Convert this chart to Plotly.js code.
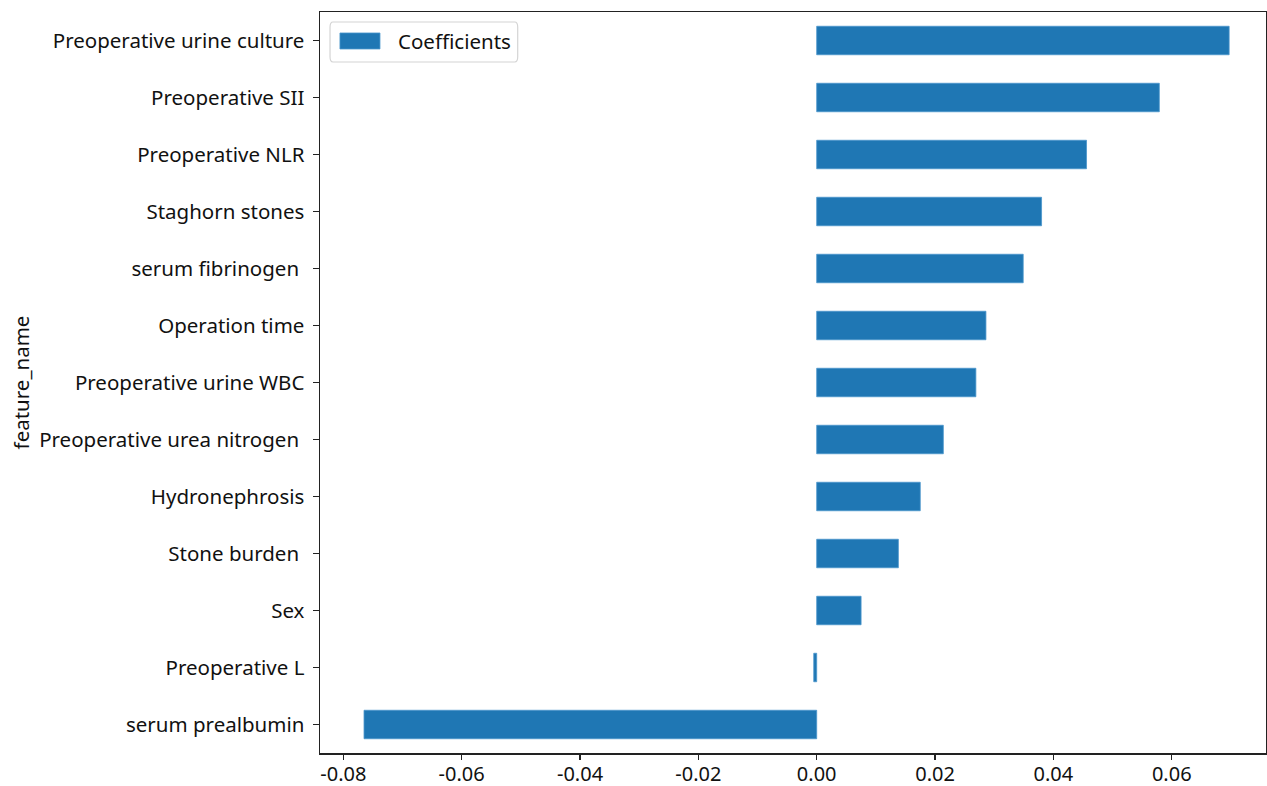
<!DOCTYPE html>
<html>
<head>
<meta charset="utf-8">
<script src="https://cdn.plot.ly/plotly-3.0.1.min.js"></script>
<style>
  html, body { margin: 0; padding: 0; background: #ffffff; }
  #chart { width: 1267px; height: 786px; }
</style>
</head>
<body>
<div id="chart"></div>
<script>
// Feature names, listed bottom to top as drawn on the category axis
const featureNames = [
  "serum prealbumin",
  "Preoperative L",
  "Sex",
  "Stone burden\u00a0",
  "Hydronephrosis",
  "Preoperative urea nitrogen\u00a0",
  "Preoperative urine WBC",
  "Operation time",
  "serum fibrinogen\u00a0",
  "Staghorn stones",
  "Preoperative NLR",
  "Preoperative SII",
  "Preoperative urine culture"
];

// Model coefficient for each feature
const coefficients = [
  -0.0765,
  -0.0005,
  0.0075,
  0.0138,
  0.0175,
  0.0214,
  0.0269,
  0.0286,
  0.0349,
  0.0380,
  0.0456,
  0.0579,
  0.0697
];

const seriesName = 'Coefficients';
const xTickValues = [-0.08, -0.06, -0.04, -0.02, 0.00, 0.02, 0.04, 0.06];
const xTickLabels = ["-0.08", "-0.06", "-0.04", "-0.02", "0.00", "0.02", "0.04", "0.06"];

const FONT = '"Noto Sans", "Open Sans", "DejaVu Sans", sans-serif';
const BAR_COLOR = '#1f77b4';
const TEXT_SIZE = 20.5;

const trace = {
  type: 'bar',
  orientation: 'h',
  name: seriesName,
  x: coefficients,
  y: featureNames,
  width: 0.5,
  marker: {
    color: BAR_COLOR,
    line: { color: '#4a95cc', width: 0.8 }
  },
  showlegend: false,
  hoverinfo: 'x+y'
};

// Legend box with a wide rectangular patch, drawn in plot-area coordinates
const legendShapes = [
  {
    type: 'path', xref: 'paper', yref: 'paper',
    path: 'M 0.0106,0.9795 L 0.0106,0.9395 Q 0.0106,0.9325 0.0137,0.9325 L 0.2059,0.9325 ' +
          'Q 0.2090,0.9325 0.2090,0.9395 L 0.2090,0.9795 Q 0.2090,0.9865 0.2059,0.9865 ' +
          'L 0.0137,0.9865 Q 0.0106,0.9865 0.0106,0.9795 Z',
    line: { color: '#d4d4d4', width: 1.2 },
    fillcolor: 'rgba(255,255,255,0.85)',
    layer: 'above'
  },
  {
    type: 'rect', xref: 'paper', yref: 'paper',
    x0: 0.0211, x1: 0.0634, y0: 0.9501, y1: 0.9717,
    line: { color: '#4a95cc', width: 0.8 },
    fillcolor: BAR_COLOR,
    layer: 'above'
  }
];

const legendLabel = {
  xref: 'paper', yref: 'paper',
  x: 0.0803, y: 0.9615,
  xanchor: 'left', yanchor: 'middle',
  text: seriesName,
  showarrow: false,
  font: { family: FONT, size: TEXT_SIZE, color: '#111111' }
};

const layout = {
  width: 1267,
  height: 786,
  margin: { l: 320, r: 1, t: 12, b: 33, pad: 0 },
  paper_bgcolor: '#ffffff',
  plot_bgcolor: '#ffffff',
  font: { family: FONT, size: TEXT_SIZE, color: '#111111' },
  showlegend: false,
  shapes: legendShapes,
  annotations: [legendLabel],
  xaxis: {
    range: [-0.08394, 0.07593],
    tickvals: xTickValues,
    ticktext: xTickLabels,
    ticks: 'outside', ticklen: 5, tickwidth: 1.2, tickcolor: '#222222',
    showline: true, linecolor: '#222222', linewidth: 1.5, mirror: true,
    showgrid: false, zeroline: false,
    ticklabelstandoff: -3,
    tickfont: { family: FONT, size: 20, color: '#111111' }
  },
  yaxis: {
    type: 'category',
    categoryorder: 'array',
    categoryarray: featureNames,
    range: [-0.5, 12.5],
    ticks: 'outside', ticklen: 6, tickwidth: 1.2, tickcolor: '#222222',
    showline: true, linecolor: '#222222', linewidth: 1.5, mirror: true,
    showgrid: false, zeroline: false,
    tickfont: { family: FONT, size: TEXT_SIZE, color: '#111111' },
    ticklabelstandoff: 4,
    title: { text: 'feature_name', font: { family: FONT, size: TEXT_SIZE, color: '#111111' }, standoff: 4 }
  }
};

Plotly.newPlot('chart', [trace], layout, { displayModeBar: false, staticPlot: true });
</script>
</body>
</html>
